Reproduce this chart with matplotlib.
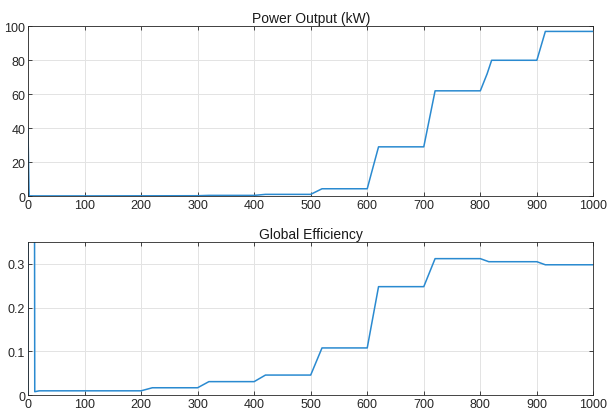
import matplotlib.pyplot as plt

# Power output steps (time, kW)
power_t = [0, 2, 100, 200, 300, 320, 400, 420, 500, 520, 600, 607, 620,
           700, 720, 800, 812, 820, 900, 915, 1000]
power_kw = [40, 0.1, 0.1, 0.15, 0.2, 0.4, 0.4, 1.0, 1.0, 4.3, 4.3, 13, 29,
            29, 62, 62, 72, 80, 80, 97, 97]

# Global efficiency steps (time, -)
eff_t = [0, 1, 10, 12, 20, 200, 220, 300, 320, 400, 420, 500, 520, 600,
         620, 700, 720, 800, 815, 900, 915, 1000]
eff = [0, 2.0, 2.0, 0.008, 0.01, 0.01, 0.017, 0.017, 0.031, 0.031, 0.046,
       0.046, 0.108, 0.108, 0.248, 0.248, 0.312, 0.312, 0.305, 0.305, 0.298,
       0.298]

x_ticks = list(range(0, 1001, 100))
power_ticks = [0, 20, 40, 60, 80, 100]
eff_ticks = [0, 0.1, 0.2, 0.3]
eff_labels = ["0", "0.1", "0.2", "0.3"]

LINE = "#2a8ad0"
plt.rcParams["font.family"] = ["Liberation Sans", "DejaVu Sans"]


def style(ax):
    ax.set_xlim(0, 1000)
    ax.set_xticks(x_ticks)
    ax.grid(True, color="#e3e3e3", linewidth=0.7)
    ax.set_axisbelow(True)
    ax.tick_params(direction="in", top=True, right=True, labelsize=9,
                   length=3, width=0.6, color="#262626", pad=2,
                   labelcolor="#262626")
    for s in ax.spines.values():
        s.set_color("#262626")
        s.set_linewidth(0.6)


fig = plt.figure(figsize=(6.08, 4.14), dpi=100)
ax1 = fig.add_axes([0.046, 0.524, 0.930, 0.410])
ax2 = fig.add_axes([0.046, 0.043, 0.930, 0.370])

ax1.plot(power_t, power_kw, color=LINE, linewidth=1.1)
style(ax1)
ax1.set_ylim(0, 100)
ax1.set_yticks(power_ticks)
ax1.set_title("Power Output (kW)", fontsize=10, pad=3, color="#1a1a1a")

ax2.plot(eff_t, eff, color=LINE, linewidth=1.1)
style(ax2)
ax2.set_ylim(0, 0.35)
ax2.set_yticks(eff_ticks)
ax2.set_yticklabels(eff_labels)
ax2.set_title("Global Efficiency", fontsize=10, pad=3, color="#1a1a1a")

fig.savefig("out.png", dpi=100)
